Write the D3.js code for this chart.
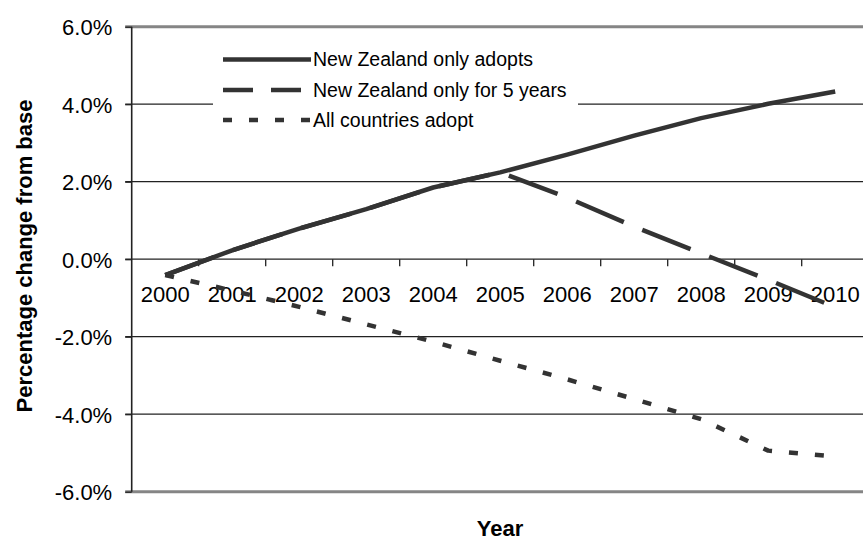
<!DOCTYPE html>
<html>
<head>
<meta charset="utf-8">
<script src="https://cdn.jsdelivr.net/npm/d3@7"></script>
<style>
  body { margin: 0; background: #fff; }
  svg { display: block; font-family: "Liberation Sans", Arial, sans-serif; }
  .yTick text { font-size: 22px; fill: #000; }
  .xTick { font-size: 22px; fill: #000; }
  .legendText { font-size: 19.5px; fill: #000; }
  .axisTitle { font-size: 22px; font-weight: bold; fill: #000; }
</style>
</head>
<body>
<div id="chart"></div>
<script>
// categories and values (percentage change from base)
var years = ["2000", "2001", "2002", "2003", "2004", "2005", "2006", "2007", "2008", "2009", "2010"];
var nzOnly = [-0.41, 0.23, 0.79, 1.29, 1.85, 2.24, 2.70, 3.19, 3.64, 4.01, 4.33];
var nzFiveYears = [-0.41, 0.23, 0.79, 1.29, 1.85, 2.24, 1.59, 0.84, 0.15, -0.53, -1.24];
var allCountries = [-0.41, -0.81, -1.23, -1.68, -2.13, -2.62, -3.10, -3.61, -4.13, -4.94, -5.09];
var yTicks = [-6, -4, -2, 0, 2, 4, 6];
var seriesNames = ["New Zealand only adopts", "New Zealand only for 5 years", "All countries adopt"];

var width = 863, height = 542;
var plot = {left: 131.7, top: 26.7, bottom: 491.7, right: 868.7};
var lineColor = "#333333";

var svg = d3.select("#chart").append("svg")
    .attr("width", width)
    .attr("height", height);

var x = d3.scaleBand()
    .domain(years)
    .range([plot.left, plot.right])
    .padding(0);

var y = d3.scaleLinear()
    .domain([-6, 6])
    .range([plot.bottom, plot.top]);

function xc(d) { return x(d) + x.bandwidth() / 2; }
function fmt(v) { return (v < 0 ? "-" : "") + Math.abs(v).toFixed(1) + "%"; }

// gridlines (top and bottom are the grey plot border)
svg.append("g").selectAll("line")
    .data(yTicks)
    .enter()
    .append("line")
    .attr("x1", plot.left - 6.5)
    .attr("x2", width)
    .attr("y1", function(d) { return y(d); })
    .attr("y2", function(d) { return y(d); })
    .attr("stroke", function(d) { return (d == 6 || d == -6) ? "#858585" : "#222"; })
    .attr("stroke-width", function(d) { return (d == 6 || d == -6) ? 3 : 1.3; });

// y axis
var yAxis = svg.append("g")
    .attr("class", "yTick")
    .attr("transform", "translate(" + plot.left + ",0)")
    .call(d3.axisLeft(y).tickValues(yTicks).tickFormat(fmt).tickSize(6.5).tickPadding(13));
yAxis.select(".domain").remove();
yAxis.selectAll(".tick line").attr("stroke", "#222").attr("stroke-width", 1.3);
yAxis.selectAll(".tick text").attr("dy", "0.36em");

svg.append("line")
    .attr("x1", plot.left).attr("x2", plot.left)
    .attr("y1", plot.top).attr("y2", plot.bottom)
    .attr("stroke", "#222")
    .attr("stroke-width", 1.6);

// x axis tick marks sit on the 0% line, between categories
svg.append("g").selectAll("line")
    .data(years.slice(1))
    .enter()
    .append("line")
    .attr("x1", function(d) { return x(d); })
    .attr("x2", function(d) { return x(d); })
    .attr("y1", y(0))
    .attr("y2", y(0) + 7)
    .attr("stroke", "#222")
    .attr("stroke-width", 1.3);

svg.append("g").selectAll("text")
    .data(years)
    .enter()
    .append("text")
    .attr("class", "xTick")
    .attr("x", xc)
    .attr("y", y(0) + 42.5)
    .attr("text-anchor", "middle")
    .text(function(d) { return d; });

// series lines
var line = d3.line()
    .x(function(d, i) { return xc(years[i]); })
    .y(function(d) { return y(d); });

var series = [
    {values: allCountries, dash: "9,17"},
    {values: nzFiveYears, dash: "52,20"},
    {values: nzOnly, dash: null}
];

svg.append("g").selectAll("path")
    .data(series)
    .enter()
    .append("path")
    .attr("d", function(d) { return line(d.values); })
    .attr("fill", "none")
    .attr("stroke", lineColor)
    .attr("stroke-width", 4.5)
    .attr("stroke-linejoin", "round")
    .attr("stroke-dasharray", function(d) { return d.dash; });

// legend
var legendRows = [
    {name: seriesNames[0], dash: null, y: 59.5},
    {name: seriesNames[1], dash: "30,18", y: 90},
    {name: seriesNames[2], dash: "9,17", y: 120}
];

var legend = svg.append("g");
legend.append("rect")
    .attr("x", 213)
    .attr("y", 40)
    .attr("width", 365)
    .attr("height", 96)
    .attr("fill", "#fff");

var rows = legend.selectAll("g")
    .data(legendRows)
    .enter()
    .append("g");

rows.append("line")
    .attr("x1", 223)
    .attr("x2", 311)
    .attr("y1", function(d) { return d.y; })
    .attr("y2", function(d) { return d.y; })
    .attr("stroke", lineColor)
    .attr("stroke-width", 4.3)
    .attr("stroke-dasharray", function(d) { return d.dash; });

rows.append("text")
    .attr("class", "legendText")
    .attr("x", 313)
    .attr("y", function(d) { return d.y; })
    .attr("dy", "0.35em")
    .text(function(d) { return d.name; });

// axis titles
svg.append("text")
    .attr("class", "axisTitle")
    .attr("transform", "translate(24,256) rotate(-90)")
    .attr("text-anchor", "middle")
    .attr("dy", "0.36em")
    .text("Percentage change from base");

svg.append("text")
    .attr("class", "axisTitle")
    .attr("x", 500)
    .attr("y", 536)
    .attr("text-anchor", "middle")
    .text("Year");
</script>
</body>
</html>
